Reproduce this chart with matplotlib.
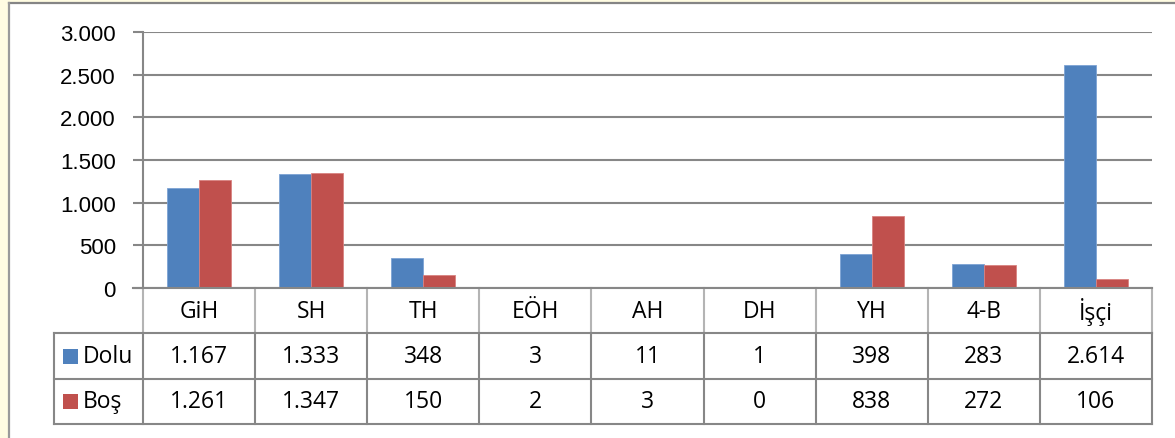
import matplotlib
matplotlib.use("Agg")
import matplotlib.pyplot as plt
from matplotlib.patches import Rectangle
from matplotlib.lines import Line2D
import matplotlib.transforms as mtrans
import numpy as np

categories = ["GiH", "SH", "TH", "EÖH", "AH", "DH", "YH", "4-B", "İşçi"]
dolu = [1167, 1333, 348, 3, 11, 1, 398, 283, 2614]
bos = [1261, 1347, 150, 2, 3, 0, 838, 272, 106]
series_names = ["Dolu", "Boş"]
y_ticks = [0, 500, 1000, 1500, 2000, 2500, 3000]

BLUE = "#4F81BD"
RED = "#C0504D"
GRID = "#878787"
W, H = 1175, 439

def fmt(v):
    return f"{v:,}".replace(",", ".")

def fx(px):
    return px / W

def fy(py):
    return 1 - py / H

fig = plt.figure(figsize=(W / 100, H / 100), dpi=100)
fig.patch.set_facecolor("#FFFCE2")

# white frame
fig.patches.append(Rectangle((fx(9), 0), 1 - fx(9), fy(4), transform=fig.transFigure,
                             facecolor="white", edgecolor="none", zorder=-10))
fig.lines.append(Line2D([fx(9), 1], [fy(4), fy(4)], transform=fig.transFigure,
                        color="#858585", lw=1.6, zorder=-5))
fig.lines.append(Line2D([fx(9), fx(9)], [0, fy(4)], transform=fig.transFigure,
                        color="#9A9A9A", lw=1.6, zorder=-5))

L, R = 143, 1152
TOP, ZERO, TBOT = 33, 289, 425
ax = fig.add_axes([fx(L), fy(ZERO), fx(R) - fx(L), fy(TOP) - fy(ZERO)])
ax.set_facecolor("none")
x = np.arange(len(categories))
bw = 0.286
ax.bar(x - bw / 2, dolu, bw, color=BLUE, edgecolor="#7DA3D4", linewidth=0.6, zorder=3)
ax.bar(x + bw / 2, bos, bw, color=RED, edgecolor="#D98280", linewidth=0.6, zorder=3)
ax.set_xlim(-0.5, len(categories) - 0.5)
ax.set_ylim(0, 3000)
ax.set_yticks(y_ticks)
ax.set_yticklabels([fmt(v) for v in y_ticks], fontfamily="Liberation Sans", fontsize=16)
ax.yaxis.grid(True, color=GRID, lw=1.5, zorder=0)
ax.set_axisbelow(True)
ax.tick_params(axis="y", length=7.5, width=1.5, color=GRID, pad=12)
ax.tick_params(axis="x", length=0, labelbottom=False)
for s in ["top", "right", "bottom"]:
    ax.spines[s].set_visible(False)
ax.spines["left"].set_color(GRID)
ax.spines["left"].set_linewidth(1.5)

# table axes
tax = fig.add_axes([fx(L), fy(TBOT), fx(R) - fx(L), fy(ZERO) - fy(TBOT)], sharex=ax)
tax.set_facecolor("none")
tax.set_ylim(0, 3)
tax.axis("off")
tfont = dict(fontfamily="Open Sans", fontsize=16.5, color="black")

# grid lines of table
for b in np.arange(len(categories) + 1) - 0.5:
    tax.plot([b, b], [2, 3], color="#B4B4B4", lw=1.5, clip_on=False)
    tax.plot([b, b], [0, 2], color=GRID, lw=1.5, clip_on=False)
tax.plot([-0.5, len(categories) - 0.5], [3, 3], color=GRID, lw=1.5, clip_on=False)
tax.plot([-0.5 - 10 / 112, -0.5], [3, 3], color=GRID, lw=1.5, clip_on=False)

blend = mtrans.blended_transform_factory(tax.transAxes, tax.transData)
lx = (54 - L) / (R - L)
for yv in [0, 1, 2]:
    tax.add_line(Line2D([lx, 1], [yv, yv], transform=blend, color=GRID, lw=1.5, clip_on=False))
tax.add_line(Line2D([lx, lx], [0, 2], transform=blend, color=GRID, lw=1.5, clip_on=False))

for i, c in enumerate(categories):
    tax.text(i, 2.5, c, ha="center", va="center", **tfont)
    tax.text(i, 1.5, fmt(dolu[i]), ha="center", va="center", **tfont)
    tax.text(i, 0.5, fmt(bos[i]), ha="center", va="center", **tfont)

sq_x = (63 - L) / (R - L)
sq_w = 15 / (R - L)
txt_x = (83 - L) / (R - L)
for yc, name, col in [(1.5, series_names[0], BLUE), (0.5, series_names[1], RED)]:
    sq_h = 15 / ((TBOT - ZERO) / 3)
    tax.add_patch(Rectangle((sq_x, yc - sq_h / 2), sq_w, sq_h, transform=blend,
                            facecolor=col, edgecolor="none", clip_on=False))
    tax.text(txt_x, yc, name, transform=blend, ha="left", va="center", **tfont)

fig.savefig("out.png", dpi=100, facecolor=fig.get_facecolor())
